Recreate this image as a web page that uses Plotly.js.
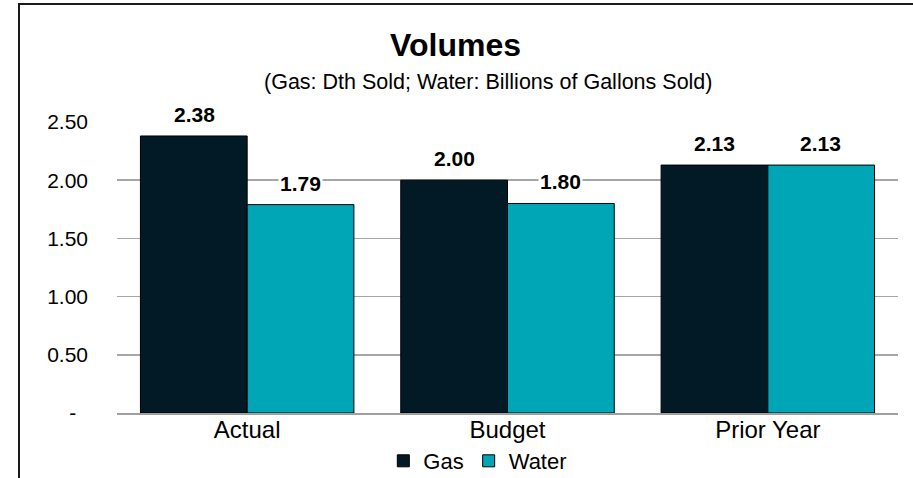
<!DOCTYPE html>
<html>
<head>
<meta charset="utf-8">
<script src="https://cdn.plot.ly/plotly-3.0.1.min.js"></script>
<style>
html,body{margin:0;padding:0;overflow:hidden;background:#fff;}
#wrap{position:relative;width:913px;height:478px;overflow:hidden;}
#chart{width:913px;height:478px;}
#frame{position:absolute;left:18px;top:3px;width:1000px;height:1000px;border:2px solid #1a1a1a;pointer-events:none;}
</style>
</head>
<body>
<div id="wrap"><div id="chart"></div><div id="frame"></div></div>
<script>
const categories = ["Actual", "Budget", "Prior Year"];
const gasValues = [2.38, 2.00, 2.13];
const waterValues = [1.79, 1.80, 2.13];
const tickVals = [0, 0.5, 1.0, 1.5, 2.0, 2.5];
const tickText = ["-\u00a0\u00a0", "0.50", "1.00", "1.50", "2.00", "2.50"];

const gasColor = "#021a25";
const waterColor = "#00a6b5";
const font = "Liberation Sans, Arial, sans-serif";

const traces = [
  {type: "bar", name: "Gas", x: categories, y: gasValues, marker: {color: gasColor, line: {color: "#000", width: 1}}, hoverinfo: "skip"},
  {type: "bar", name: "Water", x: categories, y: waterValues, marker: {color: waterColor, line: {color: "#000", width: 1}}, hoverinfo: "skip"}
];

const annotations = [];
const offsets = [-53, 53];
[gasValues, waterValues].forEach((vals, s) => {
  vals.forEach((v, i) => {
    annotations.push({
      x: categories[i], y: v, xref: "x", yref: "y",
      text: "<b>" + v.toFixed(2) + "</b>",
      showarrow: false, xshift: offsets[s], yanchor: "bottom", yshift: 8,
      bgcolor: "#fff", borderpad: 1,
      font: {family: font, size: 21, color: "#000"}
    });
  });
});
annotations.push({
  text: "(Gas: Dth Sold; Water: Billions of Gallons Sold)",
  xref: "paper", yref: "paper", x: 0.476, y: 1.137, showarrow: false,
  xanchor: "center", yanchor: "middle",
  font: {family: font, size: 21.5, color: "#000"}
});

const layout = {
  width: 913, height: 478,
  margin: {l: 117, r: 15, t: 122, b: 65, autoexpand: false},
  paper_bgcolor: "#fff", plot_bgcolor: "#fff",
  title: {text: "<b>Volumes</b>", x: 0.499, xanchor: "center", y: 1 - 45/478, yanchor: "middle", yref: "container",
          font: {family: font, size: 32, color: "#000"}},
  barmode: "group", bargap: 0.18, bargroupgap: 0,
  xaxis: {type: "category", automargin: false, tickfont: {family: font, size: 24, color: "#000"}, showgrid: false,
          showline: true, linecolor: "#a0a0a0", linewidth: 2, ticks: "", ticklabelstandoff: -6},
  yaxis: {range: [0, 2.5], automargin: false, tickvals: tickVals, ticktext: tickText, showgrid: true, gridcolor: "#a6a6a6", gridwidth: 1.5,
          zeroline: false, showline: false, ticks: "", ticklabelstandoff: 28,
          tickfont: {family: font, size: 21, color: "#000"}},
  legend: {orientation: "h", x: 0.462, xanchor: "center", y: -0.165, yanchor: "middle", bgcolor: "rgba(0,0,0,0)",
           font: {family: font, size: 22, color: "#000"}, itemwidth: 30, tracegroupgap: 0},
  annotations: annotations,
  showlegend: true
};

Plotly.newPlot("chart", traces, layout, {displayModeBar: false, staticPlot: true});
</script>
</body>
</html>
